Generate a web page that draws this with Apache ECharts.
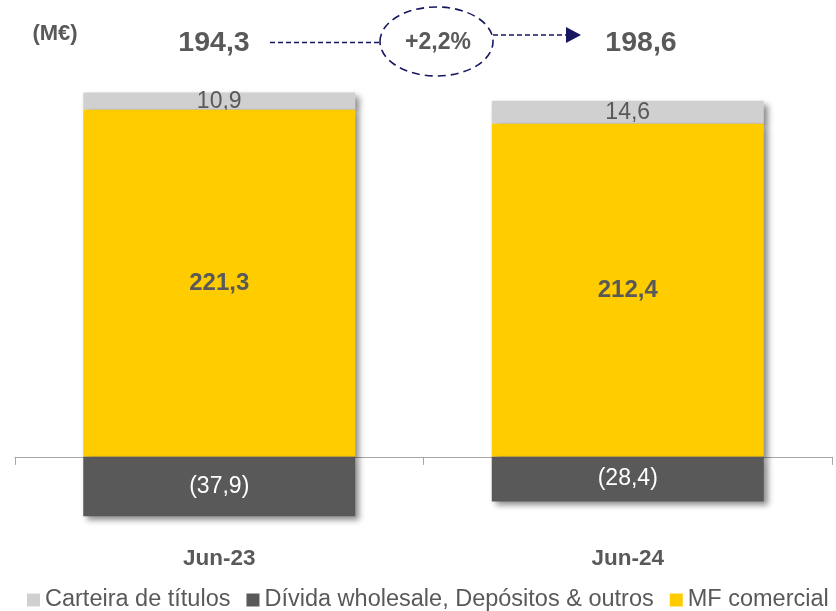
<!DOCTYPE html>
<html>
<head>
<meta charset="utf-8">
<style>
  html, body { margin: 0; padding: 0; background: #fff; }
  #chart { width: 836px; height: 611px; }
</style>
<script src="https://cdn.jsdelivr.net/npm/echarts@6/dist/echarts.min.js"></script>
</head>
<body>
<div id="chart"></div>
<script>
const categories = ['Jun-23', 'Jun-24']
const carteira = [10.9, 14.6]
const divida = [-37.9, -28.4]
const mfComercial = [221.3, 212.4]
const seriesNames = ['Carteira de títulos', 'Dívida wholesale, Depósitos & outros', 'MF comercial']

const textColor = '#595959'
const navy = '#16175f'
const fontFamily = 'Liberation Sans, Arial, sans-serif'

// formato português: vírgula decimal, negativos entre parênteses
const fmt = v => {
  const s = Math.abs(v).toFixed(1).replace('.', ',')
  return v < 0 ? '(' + s + ')' : s
}

const totals = categories.map((c, i) => carteira[i] + divida[i] + mfComercial[i])
const growth = (totals[1] / totals[0] - 1) * 100

const chart = echarts.init(document.getElementById('chart'))

const barShadow = {
  shadowColor: 'rgba(0,0,0,0.45)',
  shadowBlur: 6,
  shadowOffsetX: 4,
  shadowOffsetY: 4
}

const option = {
  animation: false,
  textStyle: { fontFamily: fontFamily },
  // 313 unidades * 1.568 px = 491 px, zero em y=457
  grid: { left: 15, width: 817, top: 49, height: 491, outerBoundsMode: 'none', containLabel: false },
  legend: {
    data: seriesNames,
    left: 27,
    top: 588,
    width: 809,
    padding: 0,
    itemWidth: 13,
    itemHeight: 13,
    itemGap: 16,
    icon: 'rect',
    textStyle: { color: textColor, fontSize: 23.5 }
  },
  xAxis: {
    type: 'category',
    data: categories,
    axisLine: { onZero: true, lineStyle: { color: '#a6a6a6', width: 1 } },
    axisTick: { show: true, length: 8, lineStyle: { color: '#a6a6a6' } },
    axisLabel: { margin: 7, color: textColor, fontSize: 22.5, fontWeight: 'bold' }
  },
  yAxis: {
    type: 'value',
    min: -53,
    max: 260,
    show: false,
    splitLine: { show: false }
  },
  series: [
    {
      name: seriesNames[2],
      type: 'bar',
      stack: 'total',
      barWidth: 272,
      z: 3,
      data: mfComercial,
      itemStyle: Object.assign({ color: '#ffcc00' }, barShadow),
      label: {
        show: true,
        position: 'inside',
        color: textColor,
        fontSize: 24,
        fontWeight: 'bold',
        formatter: p => fmt(p.value)
      }
    },
    {
      name: seriesNames[0],
      type: 'bar',
      stack: 'total',
      barWidth: 272,
      z: 2,
      data: carteira,
      itemStyle: Object.assign({ color: '#d0d0d0' }, barShadow),
      label: {
        show: true,
        position: 'inside',
        color: textColor,
        fontSize: 23,
        formatter: p => fmt(p.value)
      }
    },
    {
      name: seriesNames[1],
      type: 'bar',
      stack: 'total',
      barWidth: 272,
      z: 4,
      data: divida,
      itemStyle: Object.assign({ color: '#595959' }, barShadow),
      label: {
        show: true,
        position: 'inside',
        color: '#ffffff',
        fontSize: 23,
        formatter: p => fmt(p.value)
      }
    }
  ],
  graphic: [
    {
      type: 'text',
      x: 55,
      y: 34,
      style: {
        text: '(M€)',
        fill: textColor,
        font: 'bold 22px ' + fontFamily,
        align: 'center',
        verticalAlign: 'middle'
      }
    },
    {
      type: 'text',
      x: 214,
      y: 43,
      style: {
        text: fmt(totals[0]),
        fill: textColor,
        font: 'bold 28.5px ' + fontFamily,
        align: 'center',
        verticalAlign: 'middle'
      }
    },
    {
      type: 'text',
      x: 641,
      y: 43,
      style: {
        text: fmt(totals[1]),
        fill: textColor,
        font: 'bold 28.5px ' + fontFamily,
        align: 'center',
        verticalAlign: 'middle'
      }
    },
    {
      type: 'line',
      shape: { x1: 270, y1: 42.5, x2: 380, y2: 42.5 },
      style: { stroke: navy, lineWidth: 1.3, lineDash: [5, 3] }
    },
    {
      type: 'ellipse',
      shape: { cx: 436.5, cy: 41.5, rx: 56.5, ry: 34.5 },
      style: { fill: 'none', stroke: navy, lineWidth: 1.6, lineDash: [8, 5] }
    },
    {
      type: 'text',
      x: 438,
      y: 43,
      style: {
        text: '+' + growth.toFixed(1).replace('.', ',') + '%',
        fill: textColor,
        font: 'bold 23px ' + fontFamily,
        align: 'center',
        verticalAlign: 'middle'
      }
    },
    {
      type: 'line',
      shape: { x1: 493, y1: 35, x2: 567, y2: 35 },
      style: { stroke: navy, lineWidth: 1.3, lineDash: [5, 3] }
    },
    {
      type: 'polygon',
      shape: { points: [[566, 27], [581, 35], [566, 43]] },
      style: { fill: navy }
    }
  ]
}

chart.setOption(option)
</script>
</body>
</html>
